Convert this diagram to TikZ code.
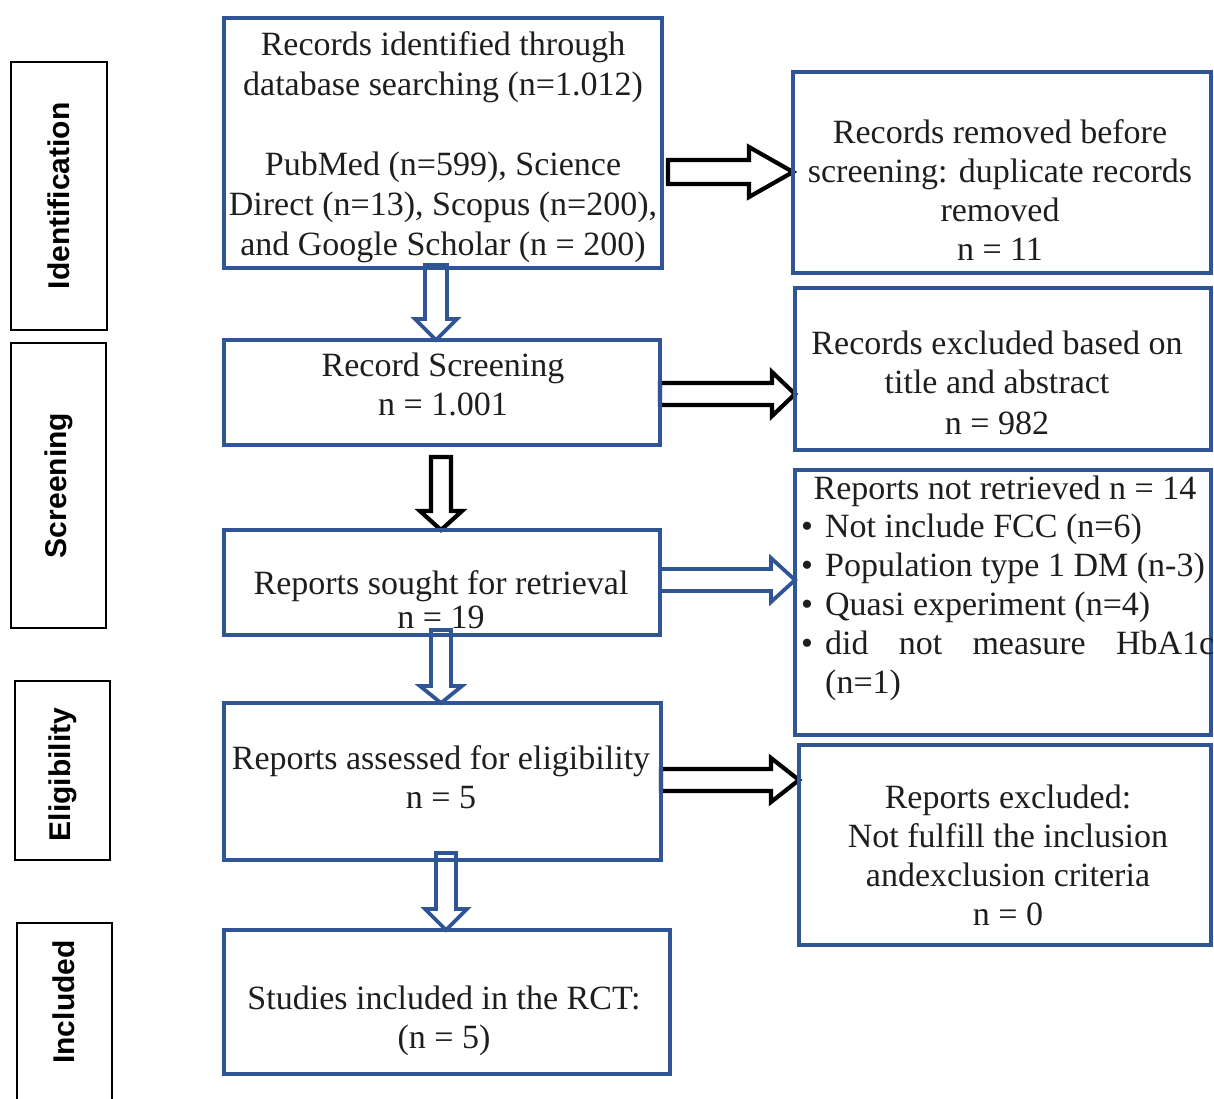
\documentclass[tikz,border=0pt]{standalone}
\usepackage{fontspec}
\setmainfont{Liberation Serif}
\newfontfamily\sidefont{Liberation Sans}
\usetikzlibrary{calc}
\definecolor{boxblue}{RGB}{47,85,151}
\definecolor{txtgray}{RGB}{30,30,30}

% vertical block arrow: #1 style, #2 from node, #3 to node, #4 x centre, #5 top offset, #6 head length, #7 head half width, #8 shaft half width
\newcommand\blkdown[8]{%
  \draw[#1] let \p1=(#2.south), \p2=(#3.north) in
    ({#4pt-#8pt},{\y1-#5pt}) -- ({#4pt+#8pt},{\y1-#5pt}) -- ({#4pt+#8pt},{\y2+#6pt})
    -- ({#4pt+#7pt},{\y2+#6pt}) -- ({#4pt},\y2) -- ({#4pt-#7pt},{\y2+#6pt})
    -- ({#4pt-#8pt},{\y2+#6pt}) -- cycle;}
% horizontal block arrow: #1 style, #2 from node, #3 to node, #4 y centre (px downward), #5 start offset, #6 head length, #7 head half width, #8 shaft half width
\newcommand\blkright[8]{%
  \draw[#1] let \p1=(#2.east), \p2=(#3.west) in
    ({\x1+#5pt},{-#4pt+#8pt}) -- ({\x2-#6pt},{-#4pt+#8pt}) -- ({\x2-#6pt},{-#4pt+#7pt})
    -- (\x2,{-#4pt}) -- ({\x2-#6pt},{-#4pt-#7pt}) -- ({\x2-#6pt},{-#4pt-#8pt})
    -- ({\x1+#5pt},{-#4pt-#8pt}) -- cycle;}

\begin{document}
\begin{tikzpicture}[x=1pt,y=-1pt,
  bluebox/.style={draw=none,inner sep=0pt,outer sep=0pt,anchor=north west},
  sidebox/.style={draw=black,line width=2.5pt,inner sep=0pt,outer sep=0pt,anchor=north west},
  sidelbl/.style={font=\sidefont\bfseries\fontsize{30}{36}\selectfont,rotate=90,inner sep=0pt},
  txt/.style={font=\fontsize{34}{39}\selectfont,text=txtgray,align=center,inner sep=0pt,anchor=base},
  lst/.style={font=\fontsize{34}{39}\selectfont,text=txtgray,align=left,inner sep=0pt,anchor=base west},
  barrow/.style={draw=boxblue,line width=3.8pt,fill=white,line join=miter},
  karrow/.style={draw=black,line width=4.2pt,fill=white,line join=miter}]
\useasboundingbox (0,0) rectangle (1214,1098);
\clip (0,0) rectangle (1214,1098);

% side boxes
\node[sidebox,minimum width=96pt,minimum height=268pt] (s1) at (11,62) {};
\node[sidebox,minimum width=95pt,minimum height=285pt] (s2) at (11,343) {};
\node[sidebox,minimum width=95pt,minimum height=179pt] (s3) at (15,681) {};
\node[sidebox,minimum width=95pt,minimum height=200pt] (s4) at (17,923) {};
\node[sidelbl] (l1) at (s1.center) {Identification};
\node[sidelbl] (l2) at (s2.center) {Screening};
\node[sidelbl] (l3) at ([yshift=-4pt]s3.center) {Eligibility};
\node[sidelbl] (l4) at (64,1002) {Included};

% main boxes (borders drawn after the arrows)
\node[bluebox,minimum width=438pt,minimum height=250pt] (b1) at (224,18) {};
\node[bluebox,minimum width=436pt,minimum height=105pt] (b2) at (224,340) {};
\node[bluebox,minimum width=436pt,minimum height=105pt] (b3) at (224,530) {};
\node[bluebox,minimum width=437pt,minimum height=157pt] (b4) at (224,703) {};
\node[bluebox,minimum width=446pt,minimum height=144pt] (b5) at (224,930) {};
\node[bluebox,minimum width=418pt,minimum height=201pt] (r1) at (793,72) {};
\node[bluebox,minimum width=416pt,minimum height=162pt] (r2) at (795,288) {};
\node[bluebox,minimum width=416pt,minimum height=265pt] (r3) at (795,470) {};
\node[bluebox,minimum width=412pt,minimum height=200pt] (r4) at (799,745) {};

% block arrows
\blkdown{barrow}{b1}{b2}{436}{-3}{21}{21}{11}
\blkdown{karrow}{b2}{b3}{441}{12}{19}{21}{10}
\blkdown{barrow}{b3}{b4}{441}{-5}{17}{21}{10}
\blkdown{barrow}{b4}{b5}{446}{-7}{21}{21}{10}
\blkright{karrow}{b1}{r1}{172}{6}{44}{25}{12}
\blkright{karrow}{b2}{r2}{394}{0}{23}{22}{11}
\blkright{barrow}{b3}{r3}{580}{0}{24}{22}{11}
\blkright{karrow}{b4}{r4}{780}{0}{28}{22}{11}

% box borders
\foreach \b in {b1,b2,b3,b4,b5,r1,r2,r3,r4}{
  \draw[boxblue,line width=3.5pt] (\b.north west) rectangle (\b.south east);}

% texts (anchor = baseline of the last line)
\node[txt,font=\fontsize{34}{40}\selectfont] (t1) at (443,255) {Records identified through\\database searching (n=1.012)\\[40pt]PubMed (n=599), Science\\Direct (n=13), Scopus (n=200),\\and Google Scholar (n = 200)};
\node[txt] (t2) at (443,415) {Record Screening\\n = 1.001};
\node[txt] (t3) at (441,628) {Reports sought for retrieval\\[-5pt]n = 19};
\node[txt] (t4) at (441,808) {Reports assessed for eligibility\\n = 5};
\node[txt] (t5) at (444,1048) {Studies included in the RCT:\\(n = 5)};
\node[txt] (u1) at (1000,260) {Records removed before\\screening: duplicate records\\removed\\n = 11};
\node[txt] (u2) at (997,434) {Records excluded based on\\title and abstract\\[2pt]n = 982};
\node[txt] (u3) at (1005,499) {Reports not retrieved n = 14};
\node[lst] (u3l) at (801,693) {\makebox[24pt][l]{\textbullet}Not include FCC (n=6)\\
\makebox[24pt][l]{\textbullet}Population type 1 DM (n-3)\\
\makebox[24pt][l]{\textbullet}Quasi experiment (n=4)\\
\makebox[24pt][l]{\textbullet}\makebox[389pt][l]{did\hfill not\hfill measure\hfill HbA1c}\\
\hspace*{24pt}(n=1)};
\node[txt] (u4) at (1008,925) {Reports excluded:\\Not fulfill the inclusion\\andexclusion criteria\\n = 0};
\end{tikzpicture}
\end{document}
